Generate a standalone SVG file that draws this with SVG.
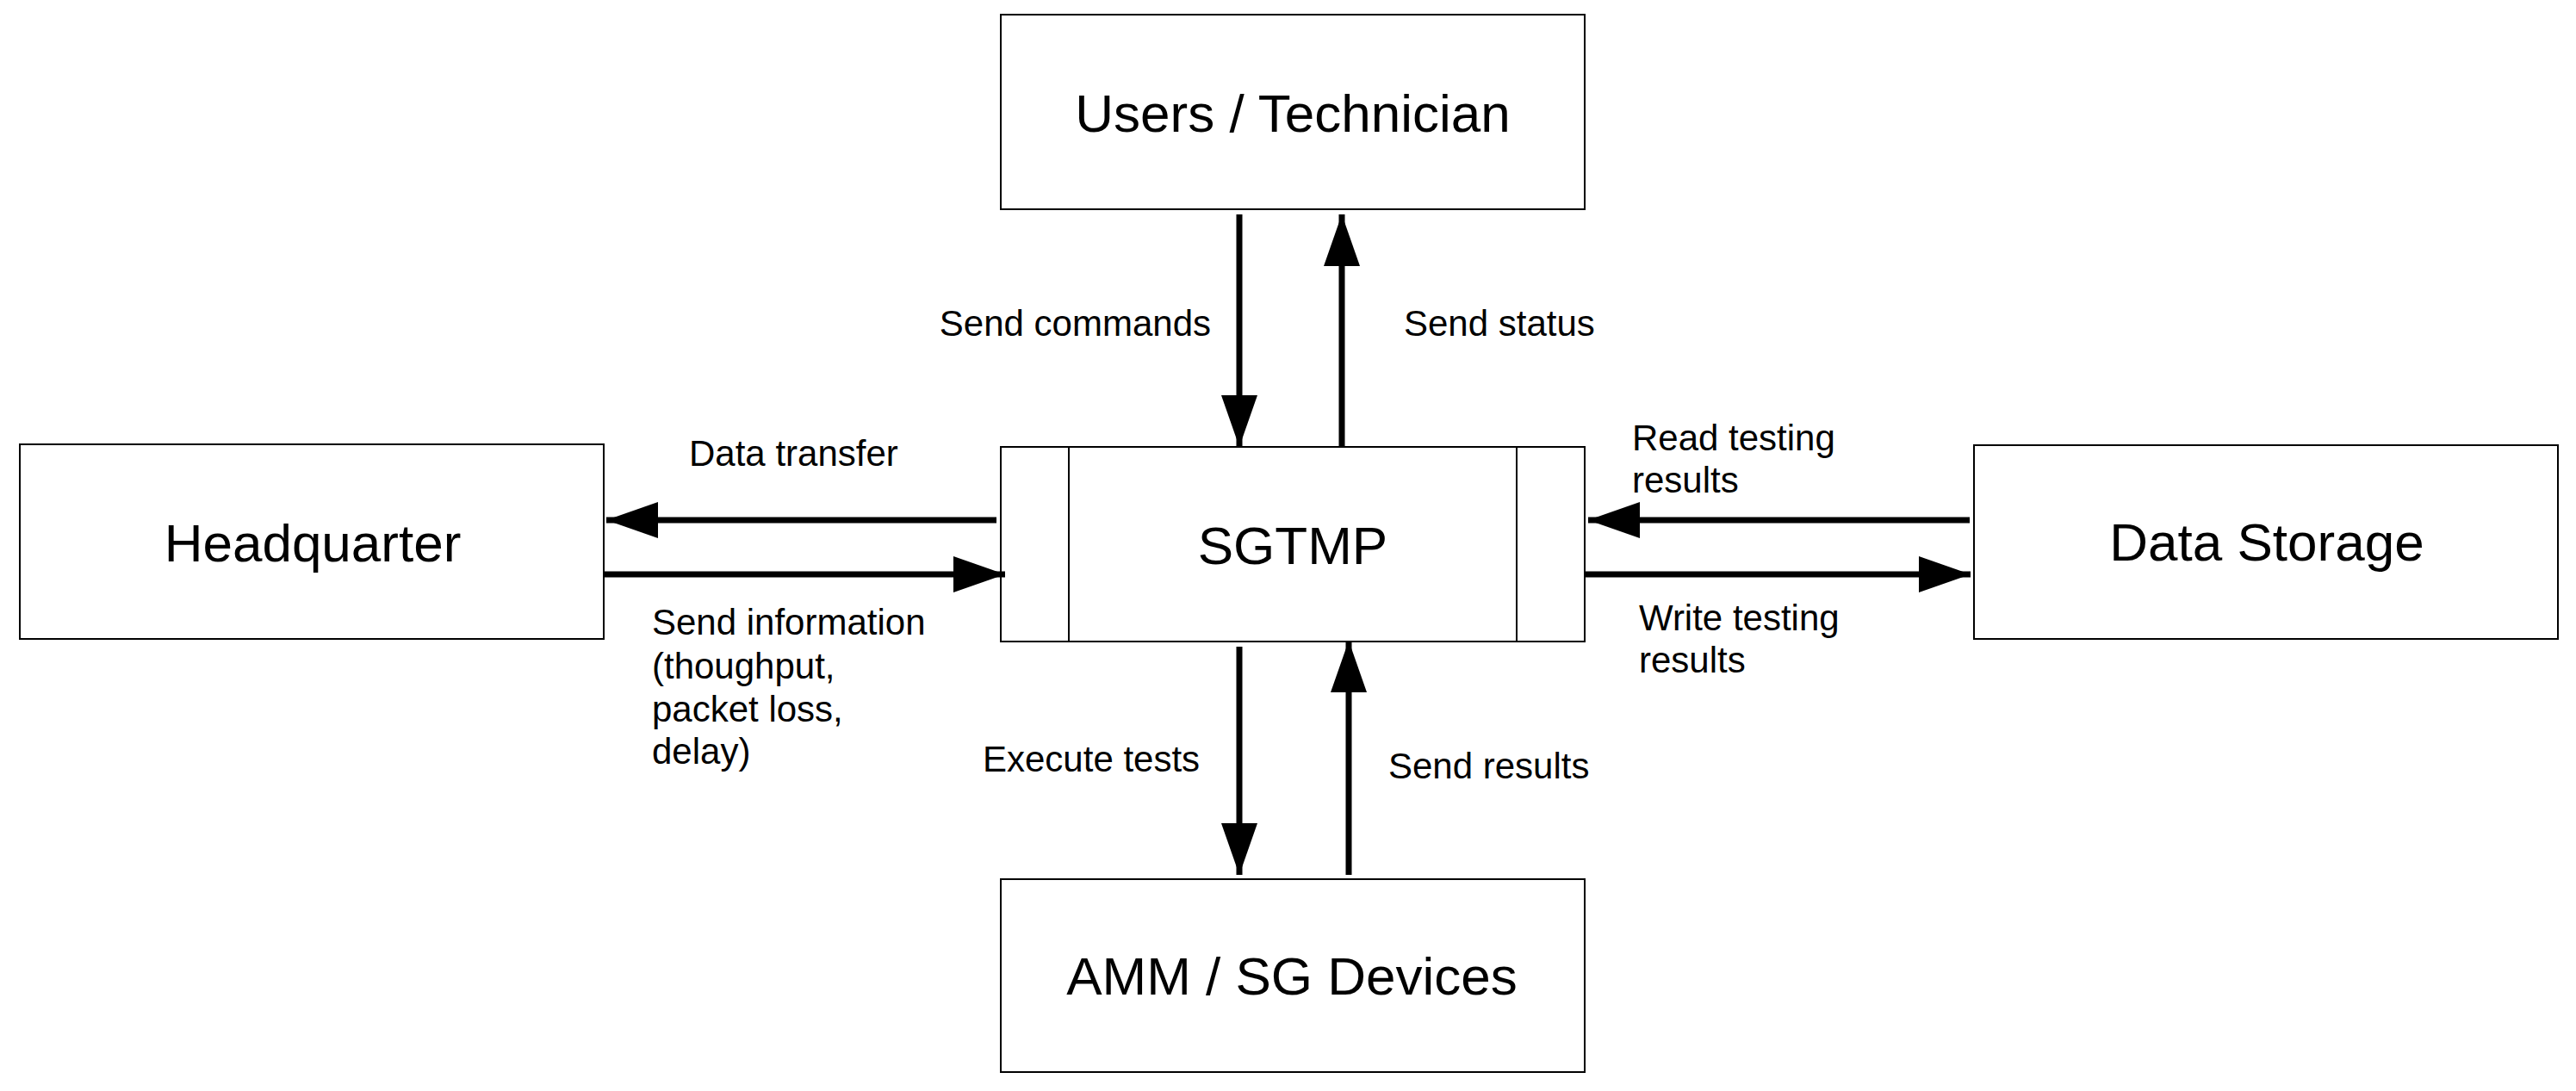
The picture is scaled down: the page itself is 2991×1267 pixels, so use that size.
<svg xmlns="http://www.w3.org/2000/svg" width="2991" height="1267" viewBox="0 0 2991 1267">
<style>
.box{fill:#fff;stroke:#000;stroke-width:2}
.t{font-family:"Liberation Sans",Arial,sans-serif;font-size:62px;fill:#000;text-anchor:middle}
.l{font-family:"Liberation Sans",Arial,sans-serif;font-size:42px;fill:#000}
.c{stroke:#000;stroke-width:7;fill:none;marker-end:url(#ah)}
</style>
<defs>
<marker id="ah" markerUnits="userSpaceOnUse" markerWidth="62" markerHeight="44" refX="60" refY="21" orient="auto">
<path d="M0,0 L60,21 L0,42 Z" fill="#000"/>
</marker>
</defs>
<rect width="2991" height="1267" fill="#fff"/>
<g id="users"><rect class="box" x="1162" y="17" width="678" height="226"/><text class="t" x="1501" y="153">Users / Technician</text></g>
<g id="sgtmp"><rect class="box" x="1162" y="519" width="678" height="226"/><line x1="1241" y1="519" x2="1241" y2="745" stroke="#000" stroke-width="2"/><line x1="1761" y1="519" x2="1761" y2="745" stroke="#000" stroke-width="2"/><text class="t" x="1501" y="655">SGTMP</text></g>
<g id="hq"><rect class="box" x="23" y="516" width="678" height="226"/><text class="t" x="363" y="652">Headquarter</text></g>
<g id="storage"><rect class="box" x="2292" y="517" width="678" height="225"/><text class="t" x="2632" y="651">Data Storage</text></g>
<g id="amm"><rect class="box" x="1162" y="1021" width="678" height="224"/><text class="t" x="1500" y="1155">AMM / SG Devices</text></g>
<g id="connectors">
<line class="c" x1="1439" y1="249" x2="1439" y2="519"/>
<line class="c" x1="1558" y1="519" x2="1558" y2="249"/>
<line class="c" x1="1157" y1="604" x2="704" y2="604"/>
<line class="c" x1="700" y1="667" x2="1167" y2="667"/>
<line class="c" x1="2287" y1="604" x2="1844" y2="604"/>
<line class="c" x1="1840" y1="667" x2="2288" y2="667"/>
<line class="c" x1="1439" y1="751" x2="1439" y2="1016"/>
<line class="c" x1="1566" y1="1016" x2="1566" y2="744"/>
</g>
<g id="labels">
<text class="l" x="1406" y="390" text-anchor="end">Send commands</text>
<text class="l" x="1630" y="390">Send status</text>
<text class="l" x="800" y="541">Data transfer</text>
<text class="l" x="757" y="737">Send information</text>
<text class="l" x="757" y="788">(thoughput,</text>
<text class="l" x="757" y="838">packet loss,</text>
<text class="l" x="757" y="887">delay)</text>
<text class="l" x="1895" y="523">Read testing</text>
<text class="l" x="1895" y="572">results</text>
<text class="l" x="1903" y="732">Write testing</text>
<text class="l" x="1903" y="781">results</text>
<text class="l" x="1141" y="896">Execute tests</text>
<text class="l" x="1612" y="904">Send results</text>
</g>
</svg>
